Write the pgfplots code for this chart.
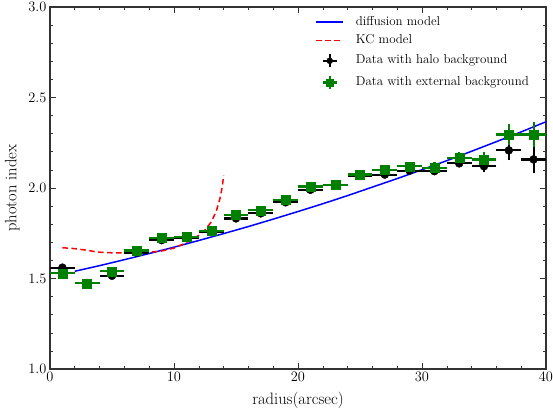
\documentclass[border=0pt]{standalone}
\usepackage{pgfplots}
\pgfplotsset{compat=1.18}
\usepackage{pgfplotstable}
\definecolor{mgreen}{rgb}{0,0.5,0}
\pgfplotstableread{
x y ex ey
1 1.560 1 0.012
3 1.475 1 0.010
5 1.515 1 0.012
7 1.643 1 0.012
9 1.712 1 0.012
11 1.725 1 0.012
13 1.757 1 0.012
15 1.832 1 0.012
17 1.860 1 0.012
19 1.921 1 0.012
21 1.990 1 0.014
23 2.015 1 0.014
25 2.066 1 0.015
27 2.074 1 0.016
29 2.096 1 0.018
31 2.093 1 0.020
33 2.136 1 0.022
35 2.120 1 0.030
37 2.208 1 0.055
39 2.158 1 0.077
}\halo
\pgfplotstableread{
x y ex ey
1 1.529 1 0.012
3 1.474 1 0.010
5 1.540 1 0.012
7 1.655 1 0.012
9 1.725 1 0.012
11 1.730 1 0.012
13 1.762 1 0.012
15 1.850 1 0.012
17 1.877 1 0.012
19 1.933 1 0.012
21 2.008 1 0.014
23 2.017 1 0.014
25 2.075 1 0.015
27 2.099 1 0.018
29 2.120 1 0.020
31 2.112 1 0.030
33 2.167 1 0.033
35 2.158 1 0.042
37 2.296 1 0.057
39 2.296 1 0.070
}\external
\pgfplotstableread{
x y
2 1.540
4 1.571
6 1.604
8 1.638
10 1.673
12 1.710
14 1.748
16 1.787
18 1.828
20 1.870
22 1.913
24 1.958
26 2.005
28 2.052
30 2.101
32 2.151
34 2.203
36 2.256
38 2.310
40 2.366
}\diffusion
\pgfplotstableread{
x y
1.0 1.670
2.0 1.665
3.0 1.656
3.8 1.646
5.0 1.642
6.0 1.642
7.0 1.643
8.0 1.645
9.0 1.652
10.0 1.668
11.0 1.698
12.0 1.738
12.5 1.768
13.0 1.812
13.4 1.870
13.7 1.940
13.9 2.010
14.0 2.070
}\kc
\begin{document}
\begin{tikzpicture}
\begin{axis}[
  scale only axis,
  width=496pt, height=362pt,
  xmin=0, xmax=40, ymin=1.0, ymax=3.0,
  xtick={0,10,20,30,40},
  ytick={1.0,1.5,2.0,2.5,3.0},
  minor x tick num=4,
  minor y tick num=4,
  tick align=inside,
  xtick pos=both, ytick pos=both,
  major tick length=6pt, minor tick length=3pt,
  every tick/.style={black!80, line width=0.6pt},
  axis line style={black!80, line width=1.2pt},
  yticklabel style={/pgf/number format/fixed, /pgf/number format/fixed zerofill, /pgf/number format/precision=1},
  ticklabel style={font=\fontsize{13.3}{16}\selectfont},
  xlabel={radius(arcsec)},
  ylabel={photon index},
  label style={font=\fontsize{16.5}{19}\selectfont},
  xlabel style={yshift=-3pt},
  ylabel style={yshift=2pt},
  legend style={draw=none, fill=none, at={(1,1)}, anchor=north east, xshift=-14pt, yshift=-7pt,
    font=\fontsize{12.9}{15}\selectfont, row sep=6.5pt,
    nodes={inner sep=0pt, text height=9pt, text depth=3pt, anchor=west},
    /tikz/every odd column/.append style={column sep=12pt}},
  legend cell align=left,
]
\addplot[blue, line width=1.5pt, legend image code/.code={\draw[blue, line width=1.5pt] (0pt,0pt)--(27pt,0pt);}] table[x=x,y=y] {\diffusion};
\addlegendentry{diffusion model}
\addplot[red, line width=1.5pt, dash pattern=on 5.5pt off 3.5pt, legend image code/.code={\draw[red, line width=1.5pt, dash pattern=on 5.5pt off 3.5pt] (0pt,0pt)--(27pt,0pt);}] table[x=x,y=y] {\kc};
\addlegendentry{KC model}
\addplot[only marks, black, mark=*, mark size=4pt, mark options={draw=black, fill=black},
  legend image code/.code={\draw[black, line width=2.2pt] (6.5pt,0pt)--(20.5pt,0pt); \draw[black, line width=2.2pt] (13.5pt,-6.5pt)--(13.5pt,6.5pt); \fill[black] (13.5pt,0pt) circle (3pt);},
  error bars/.cd, x dir=both, x explicit, y dir=both, y explicit, error mark=none,
  error bar style={line width=2.2pt, black}]
  table[x=x, y=y, x error=ex, y error=ey] {\halo};
\addlegendentry{Data with halo background}
\addplot[only marks, mgreen, mark=square*, mark size=4.5pt, mark options={draw=mgreen, fill=mgreen},
  legend image code/.code={\draw[mgreen, line width=2.2pt] (6.5pt,0pt)--(20.5pt,0pt); \draw[mgreen, line width=2.2pt] (13.5pt,-6.5pt)--(13.5pt,6.5pt); \fill[mgreen] (10pt,-3.5pt) rectangle (17pt,3.5pt);},
  error bars/.cd, x dir=both, x explicit, y dir=both, y explicit, error mark=none,
  error bar style={line width=2.2pt, mgreen}]
  table[x=x, y=y, x error=ex, y error=ey] {\external};
\addlegendentry{Data with external background}
\end{axis}
\pgfresetboundingbox
\path ([shift={(-50pt,-43pt)}]current axis.south west) rectangle ([shift={(7pt,7pt)}]current axis.north east);
\end{tikzpicture}
\end{document}
